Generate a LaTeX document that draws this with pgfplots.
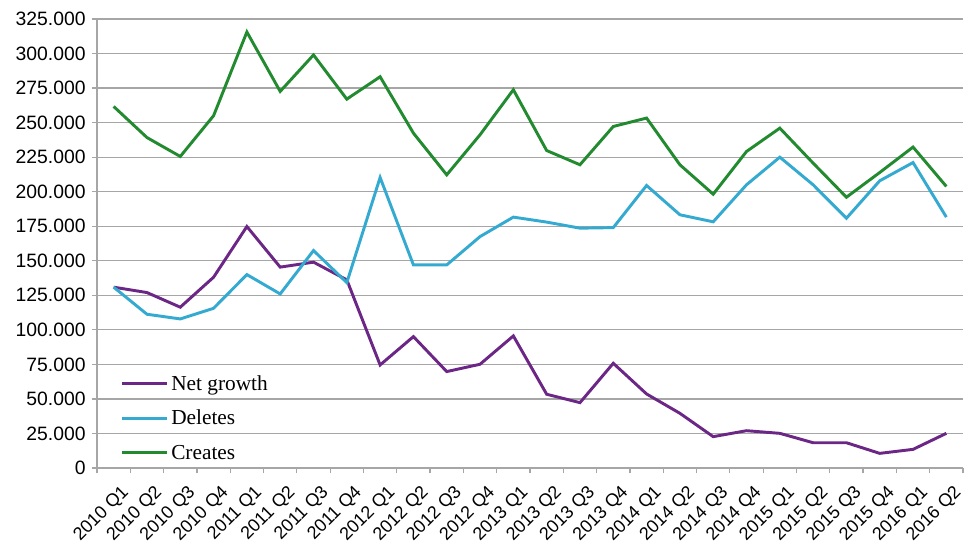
\documentclass[border=0pt]{standalone}
\usepackage{fontspec}
\setmainfont{Liberation Sans}
\newfontfamily\legfont{Liberation Serif}
\usepackage{pgfplots}
\pgfplotsset{compat=1.18}
\definecolor{cgreen}{RGB}{34,139,48}
\definecolor{cblue}{RGB}{52,170,208}
\definecolor{cpurple}{RGB}{108,38,134}
\definecolor{cgrid}{RGB}{166,166,166}
\begin{document}
\begin{tikzpicture}
\useasboundingbox (-72.75pt,-67.5pt) rectangle (660pt,351pt);
\begin{axis}[
  at={(0,0)}, anchor=south west,
  scale only axis,
  width=649.5pt, height=336.75pt,
  xmin=-0.5, xmax=25.5,
  ymin=0, ymax=325000,
  axis x line=bottom, axis y line=left,
  axis line style={-, draw=cgrid, line width=0.9pt},
  xtick={0,...,25},
  xticklabels={2010 Q1,2010 Q2,2010 Q3,2010 Q4,2011 Q1,2011 Q2,2011 Q3,2011 Q4,2012 Q1,2012 Q2,2012 Q3,2012 Q4,2013 Q1,2013 Q2,2013 Q3,2013 Q4,2014 Q1,2014 Q2,2014 Q3,2014 Q4,2015 Q1,2015 Q2,2015 Q3,2015 Q4,2016 Q1,2016 Q2},
  minor xtick={-0.5,0.5,...,25.5},
  major x tick style={draw=none},
  minor x tick style={draw=cgrid, line width=0.9pt},
  minor tick length=4pt,
  xtick align=outside,
  ytick={0,25000,...,325000},
  ytick align=outside,
  major y tick style={draw=cgrid, line width=0.9pt},
  major tick length=4pt,
  ymajorgrids=true,
  grid style={draw=cgrid, line width=0.9pt},
  scaled y ticks=false,
  /pgf/number format/.cd, fixed, precision=0, 1000 sep={.}, assume math mode=true,
  /pgfplots/.cd,
  yticklabel style={font=\fontsize{14.5}{16}\selectfont, xshift=-1pt},
  xticklabel style={font=\fontsize{13.5}{16}\selectfont, rotate=45, anchor=north east, inner sep=1pt, xshift=-1pt, yshift=-8pt},
  legend style={draw=none, fill=none, at={(rel axis cs:0.022,0.219)}, anchor=north west,
    font=\legfont\fontsize{16}{18}\selectfont, row sep=9.5pt,
    legend cell align=left},
  legend image code/.code={\draw[#1, line width=2.2pt] (0pt,0pt) -- (34pt,0pt);},
]
\addplot[cpurple, line width=2.2pt] coordinates {
(0,130900) (1,127000) (2,116400) (3,138100) (4,174800) (5,145400) (6,149000) (7,136200)
(8,74600) (9,95100) (10,69800) (11,75100) (12,95600) (13,53400) (14,47300) (15,75800)
(16,53600) (17,39600) (18,22700) (19,27000) (20,25100) (21,18300) (22,18300) (23,10600)
(24,13500) (25,25100)};
\addlegendentry{Net growth}
\addplot[cblue, line width=2.2pt] coordinates {
(0,130900) (1,111300) (2,107900) (3,115600) (4,140000) (5,126000) (6,157400) (7,134200)
(8,210300) (9,147000) (10,147000) (11,167500) (12,181600) (13,178000) (14,173600) (15,174000)
(16,204500) (17,183300) (18,178200) (19,205000) (20,225000) (21,205000) (22,180800) (23,207900)
(24,221100) (25,181600)};
\addlegendentry{Deletes}
\addplot[cgreen, line width=2.2pt] coordinates {
(0,261700) (1,239200) (2,225500) (3,255000) (4,315600) (5,272600) (6,299000) (7,267000)
(8,283200) (9,242400) (10,212200) (11,241200) (12,273800) (13,229800) (14,219500) (15,247200)
(16,253300) (17,219500) (18,198200) (19,229100) (20,246000) (21,220700) (22,196000) (23,213900)
(24,232300) (25,203800)};
\addlegendentry{Creates}
\end{axis}
\end{tikzpicture}
\end{document}
